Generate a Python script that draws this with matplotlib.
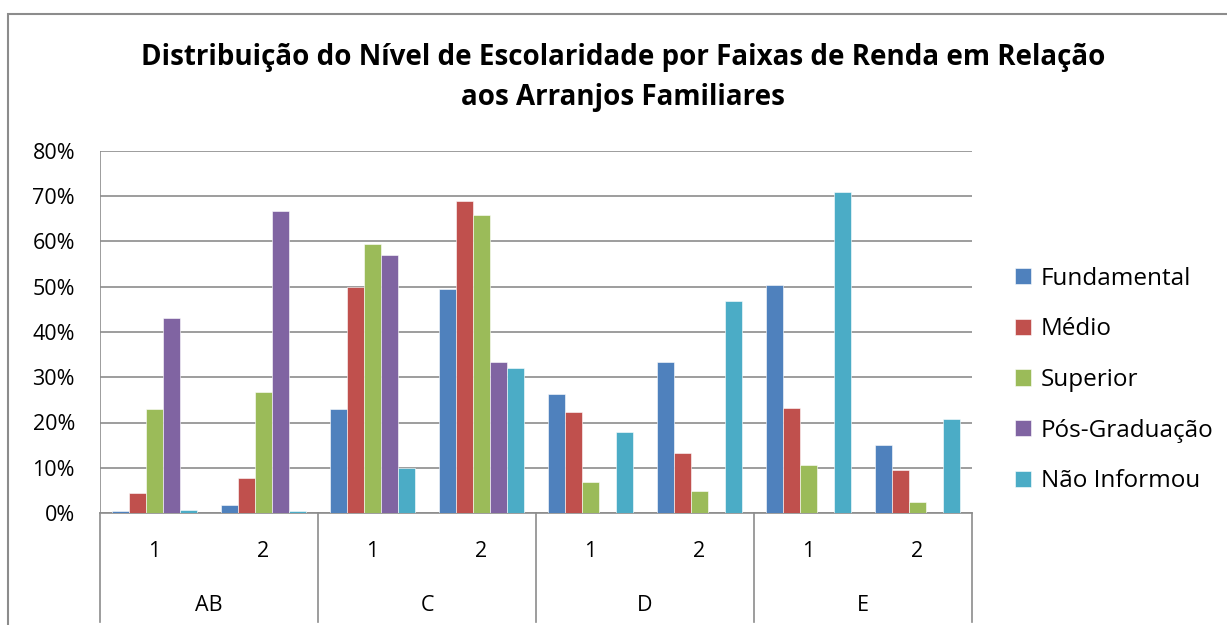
import numpy as np
import matplotlib
matplotlib.use('Agg')
import matplotlib.pyplot as plt
from matplotlib.patches import Rectangle
from matplotlib.transforms import blended_transform_factory

plt.rcParams['font.family'] = ['Open Sans', 'DejaVu Sans']

groups = ['AB', 'C', 'D', 'E']
subcats = ['1', '2']
series = ['Fundamental', 'Médio', 'Superior', 'Pós-Graduação', 'Não Informou']
colors = ['#4f81bd', '#c0504d', '#9bbb59', '#8064a2', '#4bacc6']

# values in %, order: AB1, AB2, C1, C2, D1, D2, E1, E2
fundamental = [0.4, 1.8, 23.0, 49.4, 26.3, 33.3, 50.3, 15.1]
medio = [4.5, 7.8, 50.0, 69.0, 22.4, 13.3, 23.3, 9.5]
superior = [23.0, 26.8, 59.5, 65.8, 6.9, 4.9, 10.7, 2.5]
pos_grad = [43.0, 66.7, 57.0, 33.3, 0.0, 0.0, 0.0, 0.0]
nao_informou = [0.7, 0.4, 9.9, 32.1, 18.0, 46.8, 71.0, 20.7]
values = [fundamental, medio, superior, pos_grad, nao_informou]

fig = plt.figure(figsize=(12.27, 6.25), dpi=100)
ax = fig.add_axes([100 / 1227, 1 - 513 / 625, 872 / 1227, 362 / 625])

# outer chart frame (cut off on the right and bottom)
fig.patches.append(Rectangle((8 / 1227, -0.1), 1.2, (625 - 14) / 625 + 0.1,
                             transform=fig.transFigure, fill=False,
                             edgecolor='#8c8c8c', linewidth=1.5))

x = np.arange(len(fundamental))
w = 0.156
for k, (name, vals) in enumerate(zip(series, values)):
    ax.bar(x + (k - 2) * w, vals, width=w, color=colors[k], label=name,
           edgecolor='white', linewidth=0.4, zorder=3)

ax.set_xlim(-0.5, 7.5)
ax.set_ylim(0, 80)
ax.set_yticks(range(0, 81, 10))
ax.set_yticklabels([f'{v}%' for v in range(0, 81, 10)], fontsize=15.5)
ax.tick_params(axis='y', length=0, pad=18)
ax.set_xticks([])
ax.grid(axis='y', color='#8c8c8c', linewidth=1.2, zorder=0)
for s in ['top', 'right', 'left']:
    ax.spines[s].set_visible(False)
ax.spines['bottom'].set_color('#8c8c8c')
ax.spines['bottom'].set_linewidth(1.2)
ax.axvline(-0.5, color='#8c8c8c', linewidth=1.2)

# two-level category axis
trans = blended_transform_factory(ax.transData, ax.transAxes)
for b in [-0.5, 1.5, 3.5, 5.5, 7.5]:
    ax.plot([b, b], [0, -0.3], color='#8c8c8c', linewidth=1.2,
            transform=trans, clip_on=False)
for i in x:
    ax.text(i, -0.105, subcats[i % 2], transform=trans, ha='center',
            va='center', fontsize=15.5)
for g, name in enumerate(groups):
    ax.text(2 * g + 0.5, -0.255, name, transform=trans, ha='center',
            va='center', fontsize=15.5)

fig.text(0.508, 1 - 57 / 625,
         'Distribuição do Nível de Escolaridade por Faixas de Renda em Relação',
         ha='center', va='center', fontsize=20, fontweight='bold')
fig.text(0.508, 1 - 97 / 625, 'aos Arranjos Familiares',
         ha='center', va='center', fontsize=20, fontweight='bold')

fig.legend(loc='center left', bbox_to_anchor=(1003 / 1227, 1 - 380 / 625),
           frameon=False, fontsize=17.5, handlelength=0.65, handleheight=0.65,
           labelspacing=1.1, handletextpad=0.4, borderpad=0)

fig.savefig('out.png', dpi=100)
